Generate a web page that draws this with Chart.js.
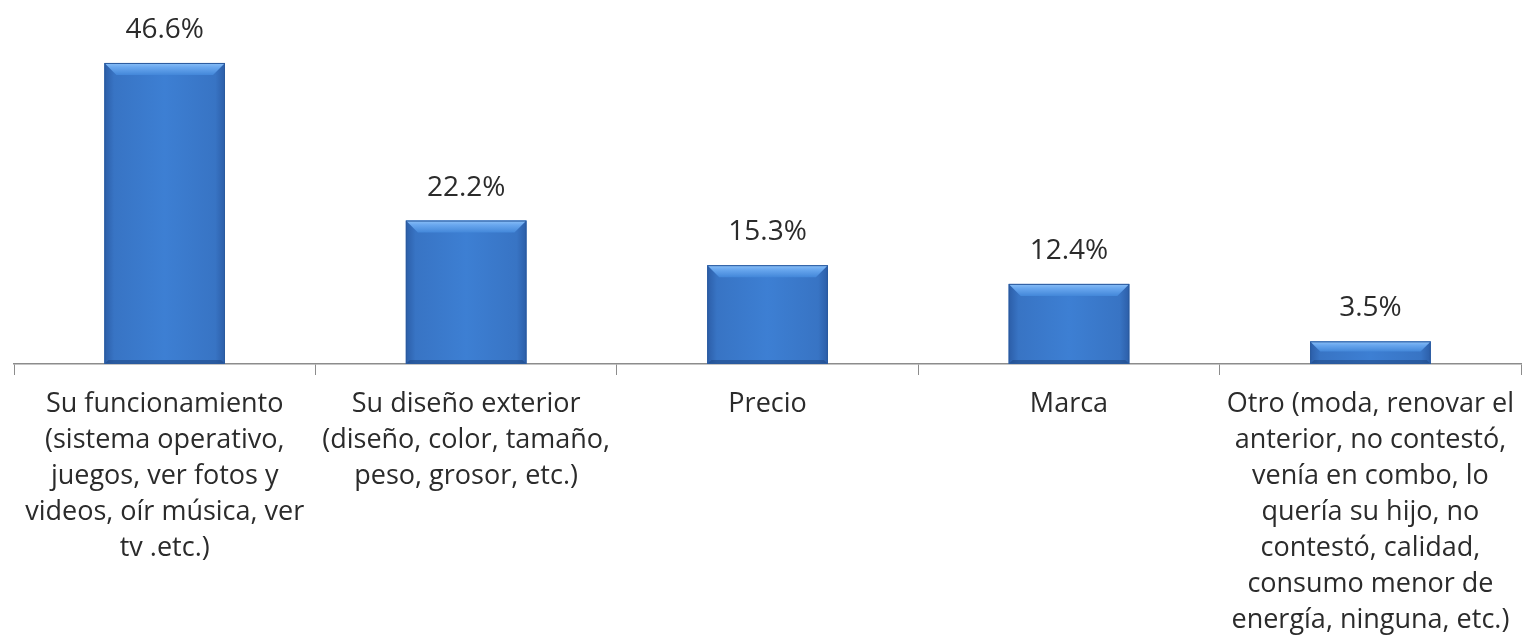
<!DOCTYPE html>
<html>
<head>
<meta charset="utf-8">
<script src="https://cdn.jsdelivr.net/npm/chart.js@4/dist/chart.umd.min.js"></script>
<style>
  html, body { margin: 0; padding: 0; background: #ffffff; }
  #wrap { width: 1525px; height: 644px; }
</style>
</head>
<body>
<div id="wrap"><canvas id="chart"></canvas></div>
<script>
// Categories (split into lines as in the picture)
const categories = [
  ["Su funcionamiento", "(sistema operativo,", "juegos, ver fotos y", "videos, oír música, ver", "tv .etc.)"],
  ["Su diseño exterior", "(diseño, color, tamaño,", "peso, grosor, etc.)"],
  ["Precio"],
  ["Marca"],
  ["Otro (moda, renovar el", "anterior, no contestó,", "venía en combo, lo", "quería su hijo, no", "contestó, calidad,", "consumo menor de", "energía, ninguna, etc.)"]
];
const percentages = [46.6, 22.2, 15.3, 12.4, 3.5];

const FONT = "'Open Sans', 'DejaVu Sans', sans-serif";
const TEXT = "#2b2b2b";

// Bevelled look and value labels on each bar
const barStyle = {
  id: "barStyle",
  afterDatasetsDraw(chart) {
    const ctx = chart.ctx;
    const meta = chart.getDatasetMeta(0);
    meta.data.forEach((bar, i) => {
      const left = bar.x - bar.width / 2;
      const right = bar.x + bar.width / 2;
      const top = bar.y;
      const bottom = bar.base;
      const w = right - left;
      const h = bottom - top;

      ctx.save();
      // body shading, darker on the sides
      const g = ctx.createLinearGradient(left, 0, right, 0);
      g.addColorStop(0, "#2c5ea8");
      g.addColorStop(0.08, "#3874c4");
      g.addColorStop(0.5, "#3d7fd3");
      g.addColorStop(0.92, "#3874c4");
      g.addColorStop(1, "#2c5ea8");
      ctx.fillStyle = g;
      ctx.fillRect(left, top, w, h);

      // top bevel
      const d = Math.min(12, h * 0.45);
      const tg = ctx.createLinearGradient(0, top, 0, top + d);
      tg.addColorStop(0, "#8cc0f7");
      tg.addColorStop(0.35, "#6aa8ef");
      tg.addColorStop(1, "#4387d9");
      ctx.fillStyle = tg;
      ctx.beginPath();
      ctx.moveTo(left, top);
      ctx.lineTo(right, top);
      ctx.lineTo(right - d, top + d);
      ctx.lineTo(left + d, top + d);
      ctx.closePath();
      ctx.fill();

      // bottom edge, darker
      const bd = Math.min(4, h * 0.2);
      ctx.fillStyle = "rgba(30, 70, 130, 0.55)";
      ctx.beginPath();
      ctx.moveTo(left, bottom);
      ctx.lineTo(right, bottom);
      ctx.lineTo(right - bd, bottom - bd);
      ctx.lineTo(left + bd, bottom - bd);
      ctx.closePath();
      ctx.fill();

      ctx.strokeStyle = "#2a5a9e";
      ctx.lineWidth = 1;
      ctx.strokeRect(left + 0.5, top + 0.5, w - 1, h - 1);

      // value label
      ctx.fillStyle = TEXT;
      ctx.font = "28px " + FONT;
      ctx.textAlign = "center";
      ctx.textBaseline = "bottom";
      ctx.fillText(percentages[i].toFixed(1) + "%", bar.x, top - 19);
      ctx.restore();
    });
  }
};

new Chart(document.getElementById("chart"), {
  type: "bar",
  data: {
    labels: categories,
    datasets: [
      {
        data: percentages,
        backgroundColor: "#3b78c8",
        borderWidth: 0,
        barPercentage: 0.4,
        categoryPercentage: 1.0,
      },
    ],
  },
  options: {
    responsive: true,
    maintainAspectRatio: false,
    animation: false,
    layout: {
      padding: { top: 41, left: 14, right: 0, bottom: 0 },
    },
    scales: {
      x: {
        grid: {
          offset: true,
          drawOnChartArea: false,
          color: "#8c8c8c",
          tickLength: 11,
        },
        border: { color: "#8c8c8c", width: 1.5 },
        ticks: {
          color: TEXT,
          font: { family: FONT, size: 27, lineHeight: 36 / 27 },
          padding: 11,
          maxRotation: 0,
          autoSkip: false,
        },
        afterFit: (scale) => {
          scale.height = 280;
        },
      },
      y: {
        display: false,
        min: 0,
        max: 50,
      },
    },
    plugins: {
      legend: { display: false },
      tooltip: { enabled: false },
    },
  },
  plugins: [barStyle],
});
</script>
</body>
</html>
